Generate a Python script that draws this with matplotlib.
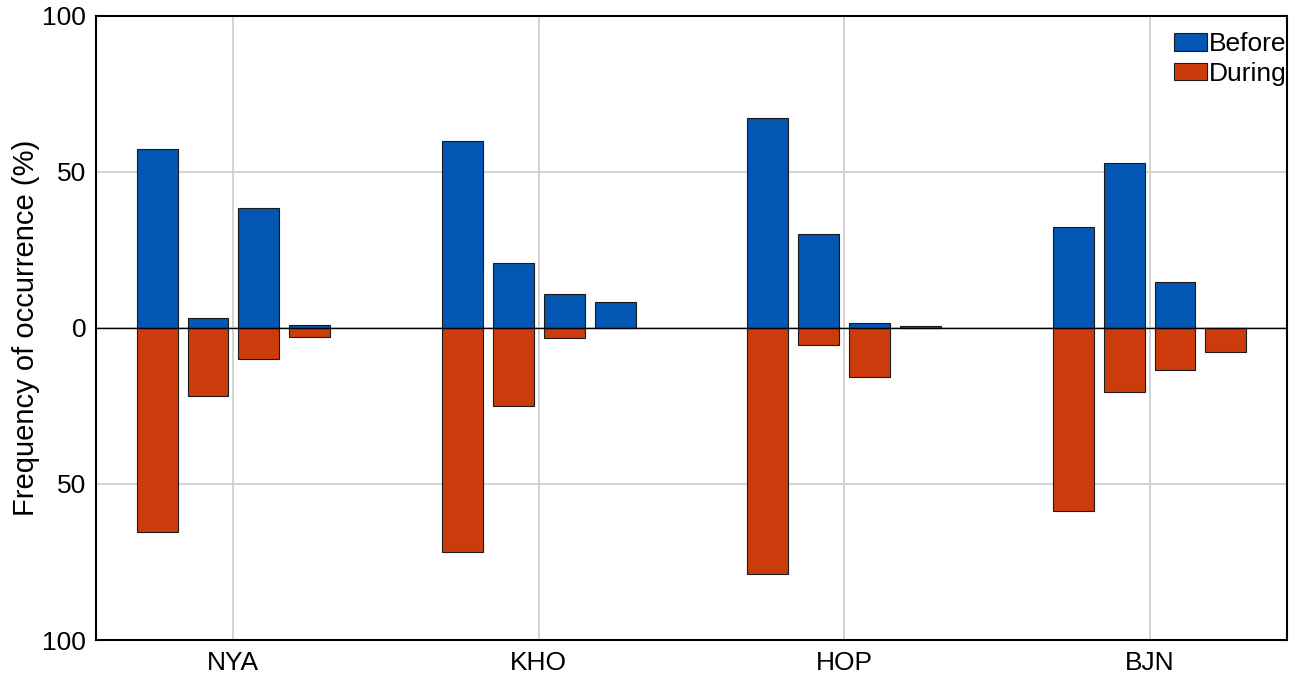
import matplotlib
matplotlib.use("Agg")
import matplotlib.pyplot as plt
import numpy as np

plt.rcParams['font.family'] = ['Liberation Sans', 'DejaVu Sans']

stations = ["NYA", "KHO", "HOP", "BJN"]
before = [
    [57.3, 3.2, 38.3, 0.8],
    [59.7, 20.8, 10.8, 8.1],
    [67.3, 30.0, 1.4, 0.6],
    [32.2, 52.8, 14.6, 0.0],
]
during = [
    [65.5, 22.0, 10.0, 2.9],
    [71.7, 25.2, 3.3, 0.0],
    [78.8, 5.6, 15.9, 0.0],
    [58.6, 20.6, 13.4, 7.7],
]
ytick_vals = [100, 50, 0, -50, -100]
ytick_labels = ["100", "50", "0", "50", "100"]

blue = "#0357b3"
red = "#cc3b0b"

fig = plt.figure(figsize=(12.91, 6.80), dpi=100)
ax = fig.add_axes([96/1291, 40/680, (1287-96)/1291, (640-15.5)/680])

x = np.arange(1, len(stations) + 1)
offsets = np.array([-0.25, -1/12, 1/12, 0.25])
width = 0.134
b = np.array(before)
d = np.array(during)
for j, off in enumerate(offsets):
    ax.bar(x + off, b[:, j], width, color=blue, edgecolor="#1a1a1a", linewidth=0.8,
           label="Before" if j == 0 else None, zorder=3)
    ax.bar(x + off, -d[:, j], width, color=red, edgecolor="#1a1a1a", linewidth=0.8,
           label="During" if j == 0 else None, zorder=3)

ax.axhline(0, color="black", linewidth=1.0, zorder=4)
ax.set_xlim(0.55, 4.45)
ax.set_ylim(-100, 100)
ax.set_xticks(x)
ax.set_xticklabels(stations)
ax.set_yticks(ytick_vals)
ax.set_yticklabels(ytick_labels)
ax.grid(True, color="#d0d0d0", linewidth=1.3, zorder=0)
ax.set_axisbelow(True)
ax.tick_params(length=0, labelsize=19)
ax.tick_params(axis="x", pad=8)
ax.tick_params(axis="y", pad=7)
ax.set_ylabel("Frequency of occurrence (%)", fontsize=21, labelpad=2)
for s in ax.spines.values():
    s.set_linewidth(1.5)
    s.set_color("black")

ax.legend(loc="upper right", bbox_to_anchor=(1.0067, 0.9856), frameon=False,
          fontsize=19, handlelength=1.25, handleheight=0.65, handletextpad=0.08,
          labelspacing=0.2, borderaxespad=0.0, borderpad=0.3)

fig.savefig("out.png", dpi=100)
